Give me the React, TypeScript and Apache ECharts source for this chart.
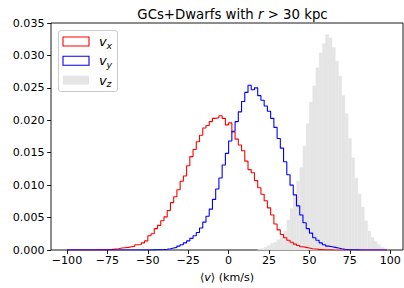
import React, { useEffect, useRef } from "react";
import * as echarts from "echarts";

// Histogram binning: edges from -100 in steps of 2 (99 bins, last edge 98)
const binStart = -100;
const binWidth = 2;

// Bin densities (bin centres -99, -97, ..., 97)
const vxDensity = [
  0, 0, 0, 0, 0, 0, 0, 0, 0,
  0.00002, 0.00003, 0.00005, 0.00007, 0.0001, 0.00015, 0.0002, 0.0003, 0.00035, 0.0004,
  0.0005, 0.0006, 0.0008, 0.00085, 0.0011, 0.0014, 0.0022, 0.0025, 0.0033, 0.0038,
  0.0045, 0.0051, 0.0061, 0.0073, 0.0082, 0.0093, 0.0106, 0.0114, 0.013, 0.0144,
  0.0155, 0.0167, 0.0177, 0.0188, 0.0192, 0.0198, 0.0203, 0.0204, 0.0207, 0.0203,
  0.0193, 0.0196, 0.0182, 0.0171, 0.0162, 0.0153, 0.0137, 0.0124, 0.0119, 0.0107,
  0.0096, 0.0086, 0.0076, 0.0065, 0.0054, 0.004, 0.0031, 0.0024, 0.0019, 0.0015,
  0.0012, 0.0009, 0.0007, 0.0005, 0.0004, 0.0003, 0.0002, 0.00015, 0.0001, 0.00008,
  0.00005, 0.00003, 0.00002,
  0, 0, 0, 0, 0, 0, 0, 0, 0, 0, 0, 0, 0, 0, 0, 0, 0,
];

const vyDensity = [
  0, 0, 0, 0, 0, 0, 0, 0, 0, 0, 0, 0, 0, 0, 0, 0, 0, 0, 0, 0, 0, 0, 0, 0, 0,
  0.00001, 0.00002, 0.00003, 0.00005, 0.00008, 0.00012, 0.0002, 0.0003, 0.0004, 0.0006,
  0.0008, 0.0011, 0.0014, 0.0018, 0.0022, 0.0027, 0.0034, 0.0043, 0.0052, 0.0063,
  0.0078, 0.0094, 0.0111, 0.0131, 0.0149, 0.0168, 0.0183, 0.0198, 0.0213, 0.0229,
  0.0243, 0.0254, 0.0247, 0.025, 0.0238, 0.0231, 0.0222, 0.0214, 0.0203, 0.0189,
  0.0172, 0.0157, 0.0136, 0.0116, 0.01, 0.0085, 0.0068, 0.0054, 0.0042, 0.0033,
  0.0026, 0.0019, 0.0015, 0.0011, 0.0008, 0.0006, 0.0005, 0.0004, 0.0003, 0.0002,
  0.00012, 0.00008, 0.00005, 0.00003, 0.00002, 0.00001,
  0, 0, 0, 0, 0, 0, 0, 0,
];

const vzDensity = [
  0, 0, 0, 0, 0, 0, 0, 0, 0, 0, 0, 0, 0, 0, 0, 0, 0, 0, 0, 0,
  0, 0, 0, 0, 0, 0, 0, 0, 0, 0, 0, 0, 0, 0, 0, 0, 0, 0, 0, 0,
  0, 0, 0, 0, 0, 0, 0, 0, 0, 0, 0, 0, 0, 0, 0, 0, 0, 0, 0,
  0.0001, 0.0002, 0.0004, 0.0007, 0.001, 0.0012, 0.0016, 0.0021, 0.0029, 0.0046,
  0.0064, 0.0083, 0.0106, 0.0127, 0.016, 0.0195, 0.0228, 0.0253, 0.0281, 0.0304,
  0.0318, 0.0332, 0.0327, 0.0312, 0.0291, 0.0268, 0.0238, 0.021, 0.0172, 0.0142,
  0.0111, 0.0086, 0.0066, 0.0045, 0.0029, 0.0019, 0.0013, 0.0008, 0.0004, 0.0002,
];

const xTicks = [-100, -75, -50, -25, 0, 25, 50, 75, 100];
const yMin = 0;
const yMax = 0.035;
const yStep = 0.005;

const legendItems = [
  { sub: "x", kind: "line", color: "#ff0000" },
  { sub: "y", kind: "line", color: "#0000ff" },
  { sub: "z", kind: "fill", color: "#e5e5e5" },
];

const FONT = "'DejaVu Sans', sans-serif";
const TICK_FS = 11.1;

function stepData(vals: number[]) {
  const n = vals.length;
  const pts: number[][] = [[binStart, 0]];
  vals.forEach((v, i) => pts.push([binStart + i * binWidth, v]));
  pts.push([binStart + n * binWidth, vals[n - 1]]);
  pts.push([binStart + n * binWidth, 0]);
  return pts;
}

function barData(vals: number[]) {
  return vals.map((v, i) => [binStart + i * binWidth, binStart + (i + 1) * binWidth, v]);
}

function fmtMinus(v: number) {
  return v < 0 ? "\u2212" + Math.abs(v) : String(v);
}

export default function App() {
  const ref = useRef<HTMLDivElement>(null);

  useEffect(() => {
    if (!ref.current) return;
    const chart = echarts.init(ref.current, undefined, { renderer: "svg" });

    const legendGraphics: any[] = [
      {
        type: "rect",
        shape: { x: 58.5, y: 30.5, width: 59, height: 61, r: 2.5 },
        style: { fill: "rgba(255,255,255,0.8)", stroke: "#cccccc", lineWidth: 1 },
        z: 50,
      },
    ];
    legendItems.forEach((it, i) => {
      const y = 37 + i * 19.3;
      legendGraphics.push({
        type: "rect",
        shape: { x: 63, y, width: 26, height: 9 },
        style:
          it.kind === "line"
            ? { fill: "none", stroke: it.color, lineWidth: 1.1 }
            : { fill: it.color },
        z: 51,
      });
      legendGraphics.push({
        type: "text",
        x: 99,
        y: y + 4.5,
        style: {
          text: "v",
          font: `italic 13px ${FONT}`,
          fill: "#000",
          align: "left",
          verticalAlign: "middle",
        },
        z: 51,
      });
      legendGraphics.push({
        type: "text",
        x: 106.4,
        y: y + 8.2,
        style: {
          text: it.sub,
          font: `italic 9.3px ${FONT}`,
          fill: "#000",
          align: "left",
          verticalAlign: "middle",
        },
        z: 51,
      });
    });

    chart.setOption({
      animation: false,
      title: {
        text: "{n|GCs+Dwarfs with }{i|r}{n| > 30 kpc}",
        left: 227.5,
        textAlign: "center",
        top: 3,
        textStyle: {
          fontWeight: "normal",
          rich: {
            n: { fontFamily: FONT, fontSize: 13.3, fontWeight: "normal", color: "#000" },
            i: { fontFamily: FONT, fontSize: 13.3, fontWeight: "normal", fontStyle: "italic", color: "#000" },
          },
        },
      },
      grid: {
        left: 51,
        right: 1,
        top: 23,
        bottom: 35,
        show: true,
        borderColor: "#000",
        borderWidth: 0.9,
        backgroundColor: "transparent",
      },
      xAxis: {
        type: "value",
        min: -109.9,
        max: 107.9,
        splitLine: { show: false },
        axisLine: { show: false, onZero: false },
        axisTick: {
          show: true,
          customValues: xTicks,
          length: 3.9,
          lineStyle: { color: "#000", width: 0.9 },
        },
        axisLabel: {
          customValues: xTicks,
          formatter: (v: number) => fmtMinus(v),
          fontFamily: FONT,
          fontSize: TICK_FS,
          color: "#000",
          margin: 5,
        },
        name: "{n|\u27E8}{i|v}{n|\u27E9 (km/s)}",
        nameLocation: "middle",
        nameGap: 22,
        nameTextStyle: {
          rich: {
            n: { fontFamily: FONT, fontSize: TICK_FS, color: "#000" },
            i: { fontFamily: FONT, fontSize: TICK_FS, fontStyle: "italic", color: "#000" },
          },
        },
      },
      yAxis: {
        type: "value",
        min: yMin,
        max: yMax,
        interval: yStep,
        splitLine: { show: false },
        axisLine: { show: false, onZero: false },
        axisTick: { show: true, length: 3.9, lineStyle: { color: "#000", width: 0.9 } },
        axisLabel: {
          formatter: (v: number) => v.toFixed(3),
          fontFamily: FONT,
          fontSize: TICK_FS,
          color: "#000",
          margin: 6.5,
        },
      },
      graphic: legendGraphics,
      series: [
        {
          name: "vz",
          type: "custom",
          z: 1,
          data: barData(vzDensity),
          encode: { x: [0, 1], y: 2 },
          renderItem: (params: any, api: any) => {
            const x0 = api.value(0);
            const x1 = api.value(1);
            const v = api.value(2);
            if (!v) return null;
            const p0 = api.coord([x0, v]);
            const p1 = api.coord([x1, 0]);
            return {
              type: "rect",
              shape: { x: p0[0], y: p0[1], width: p1[0] - p0[0], height: p1[1] - p0[1] },
              style: { fill: "#e5e5e5", stroke: "#e5e5e5", lineWidth: 0.4 },
            };
          },
        },
        {
          name: "vx",
          type: "line",
          step: "end",
          z: 3,
          symbol: "none",
          data: stepData(vxDensity),
          lineStyle: { color: "#ff0000", width: 1.1 },
        },
        {
          name: "vy",
          type: "line",
          step: "end",
          z: 4,
          symbol: "none",
          data: stepData(vyDensity),
          lineStyle: { color: "#0000ff", width: 1.1 },
        },
      ],
    });

    return () => chart.dispose();
  }, []);

  return (
    <div
      ref={ref}
      style={{ position: "fixed", left: 0, top: 0, width: 404, height: 288, background: "#fff" }}
    />
  );
}
